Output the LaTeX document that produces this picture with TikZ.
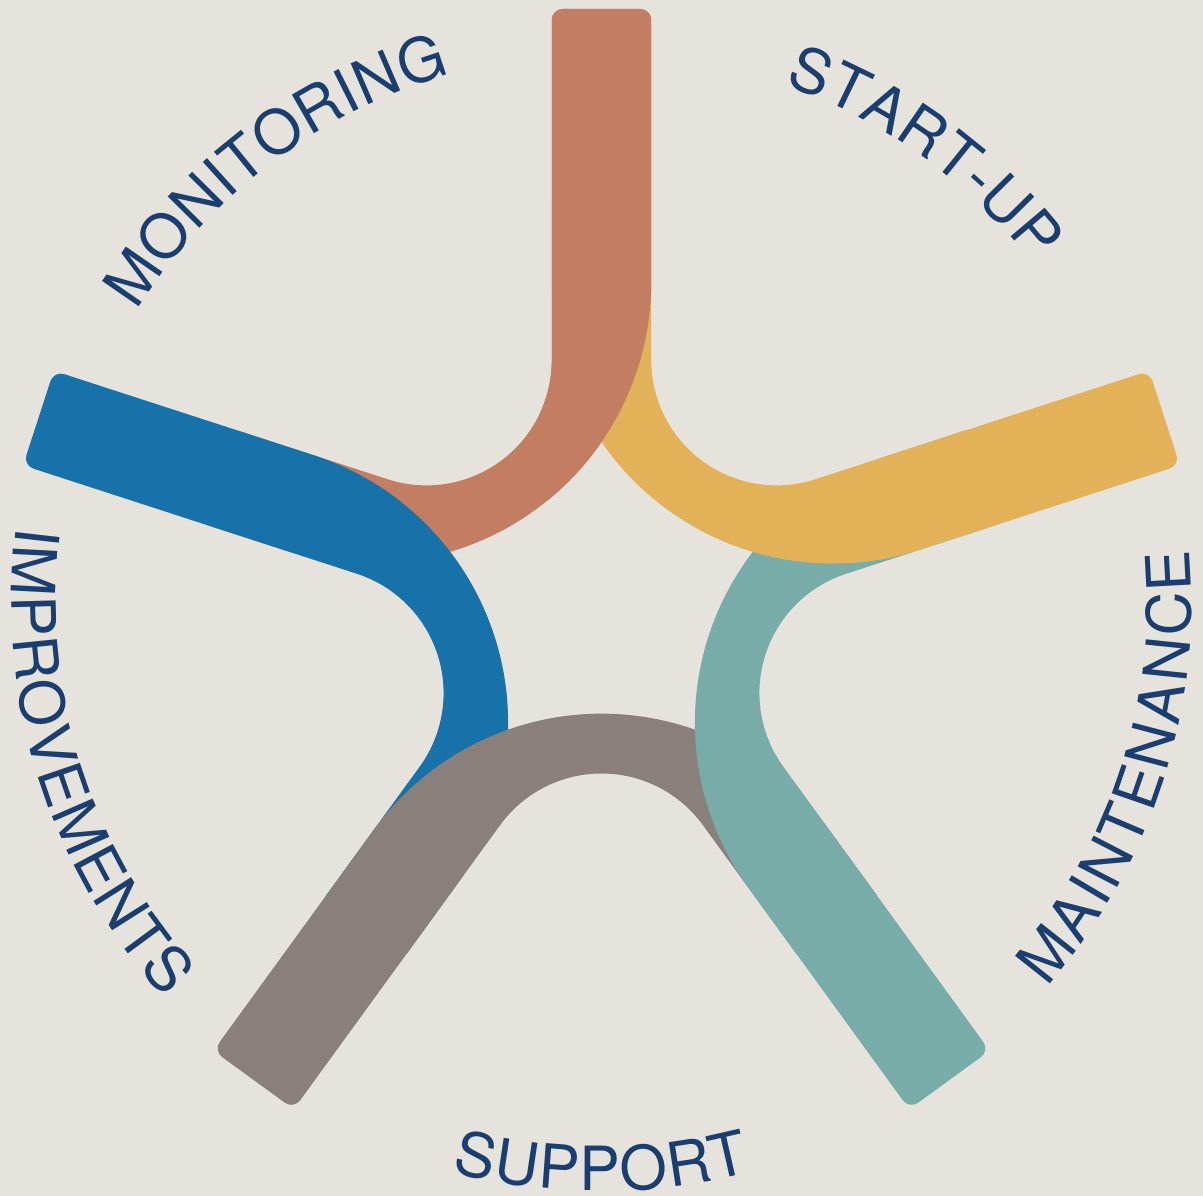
\documentclass[tikz,border=0pt]{standalone}
\usepackage{fontspec}
\setmainfont{TeX Gyre Heros}
\usetikzlibrary{decorations.text}
\definecolor{bgc}{HTML}{E6E3DD}
\definecolor{orangec}{HTML}{C27D63}
\definecolor{yellowc}{HTML}{E3B258}
\definecolor{tealc}{HTML}{78ACA8}
\definecolor{grayc}{HTML}{8A807B}
\definecolor{bluec}{HTML}{1672A8}
\definecolor{textc}{HTML}{1A3E70}
\newcommand{\armpiece}[2]{%
  \fill[#1,rotate=#2] (-49.7,581) -- (-49.7,241.0)
    arc[start angle=0,end angle=-108,radius=125.4]
    -- (-365.1,170.9) -- (-395.8,76.3) -- (-318.4,51.2)
    arc[start angle=252,end angle=360,radius=281.2]
    -- (49.7,581) arc[start angle=0,end angle=90,radius=11]
    -- (-38.7,592) arc[start angle=90,end angle=180,radius=11] -- cycle;}
\tikzset{
  lbl/.style={decorate,decoration={text along path,text align=fit to path,
    text={|\fontsize{61pt}{61pt}\selectfont\color{textc}|#1}}}
}
\begin{document}
\begin{tikzpicture}[x=1pt,y=1pt]
\useasboundingbox (-601.5,-595) rectangle (601.5,601);
\fill[bgc] (-601.5,-595) rectangle (601.5,601);
\coordinate (O) at (0,0);
% bands (cyclic overlap: orange redrawn at the end where it lies over yellow)
\armpiece{orangec}{0}
\armpiece{bluec}{72}
\armpiece{grayc}{144}
\armpiece{tealc}{-144}
\armpiece{yellowc}{-72}
\begin{scope}
  \clip (-62,100) rectangle (62,601);
  \armpiece{orangec}{0}
\end{scope}
% labels
\path[lbl=MONITORING] (148:548) arc[start angle=148,end angle=106,radius=548];
\path[lbl=START-UP] (70.5:548) arc[start angle=70.5,end angle=38,radius=548];
\path[lbl=MAINTENANCE] (-40.9:590) arc[start angle=-40.9,end angle=5,radius=590];
\path[lbl=SUPPORT] (255.3:590) arc[start angle=255.3,end angle=284.7,radius=590];
\path[lbl=IMPROVEMENTS] (172.7:590) arc[start angle=172.7,end angle=222.3,radius=590];
\end{tikzpicture}
\end{document}
